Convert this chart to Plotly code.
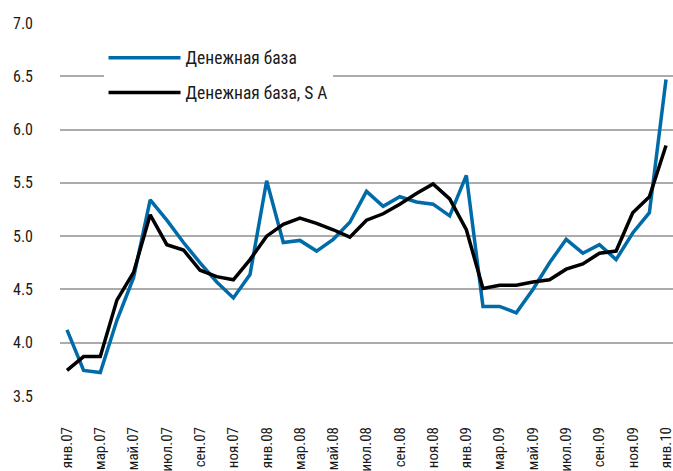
import plotly.graph_objects as go

months = ["янв", "фев", "мар", "апр", "май", "июн", "июл", "авг", "сен", "окт", "ноя", "дек"]
categories = [f"{months[i % 12]}.{7 + i // 12:02d}" for i in range(37)]

money_base = [4.12, 3.74, 3.72, 4.21, 4.61, 5.34, 5.15, 4.94, 4.75, 4.57, 4.42, 4.64,
              5.52, 4.94, 4.96, 4.86, 4.97, 5.13, 5.42, 5.28, 5.37, 5.32, 5.30, 5.19,
              5.57, 4.34, 4.34, 4.28, 4.50, 4.75, 4.97, 4.84, 4.92, 4.78, 5.03, 5.22,
              6.47]
money_base_sa = [3.74, 3.87, 3.87, 4.40, 4.66, 5.20, 4.92, 4.87, 4.68, 4.62, 4.59, 4.78,
                 5.00, 5.11, 5.17, 5.12, 5.06, 4.99, 5.15, 5.21, 5.30, 5.40, 5.49, 5.35,
                 5.06, 4.51, 4.54, 4.54, 4.57, 4.59, 4.69, 4.74, 4.84, 4.86, 5.22, 5.37,
                 5.85]
series_names = ["Денежная база", "Денежная база, S A"]

x = list(range(len(categories)))
FONT = "Liberation Sans Narrow, Roboto Condensed, Arial Narrow, sans-serif"

fig = go.Figure()
fig.add_trace(go.Scatter(x=x, y=money_base, mode="lines", name=series_names[0],
                         line=dict(color="#006BA9", width=3.5), legendgroup="a"))
fig.add_trace(go.Scatter(x=x, y=money_base_sa, mode="lines", name=series_names[1],
                         line=dict(color="#000000", width=3.5), legendgroup="b"))

fig.update_layout(
    width=673, height=471,
    margin=dict(l=60, r=0, t=23, b=75, autoexpand=False),
    paper_bgcolor="white", plot_bgcolor="white",
    font=dict(family=FONT, size=14, color="#1a1a1a"),
    showlegend=True,
    legend=dict(x=0.071, y=0.955, xanchor="left", yanchor="top",
                bgcolor="white", font=dict(family=FONT, size=17.5, color="#1a1a1a"),
                itemwidth=72, tracegroupgap=9, traceorder="grouped"),
    xaxis=dict(range=[-0.42, 36.42], tickmode="array", automargin=False,
               tickvals=x[::2], ticktext=categories[::2], tickangle=-90,
               showgrid=False, zeroline=False, showline=False, ticks="",
               ticklabelstandoff=27, ticklabeloverflow="allow",
               tickfont=dict(family=FONT, size=15, color="#1a1a1a")),
    yaxis=dict(range=[3.5, 7.0], tickmode="array", automargin=False,
               tickvals=[3.5, 4.0, 4.5, 5.0, 5.5, 6.0, 6.5, 7.0],
               ticktext=["3.5", "4.0", "4.5", "5.0", "5.5", "6.0", "6.5", "7.0"],
               showgrid=True, gridcolor="#ABABAB", gridwidth=2, zeroline=False,
               showline=False, ticks="", ticklabelstandoff=26,
               tickfont=dict(family=FONT, size=16, color="#1a1a1a")),
)

fig.write_html("out.html", config={"displayModeBar": False},
               post_script="document.body.style.margin='0';document.body.style.overflow='hidden';")
